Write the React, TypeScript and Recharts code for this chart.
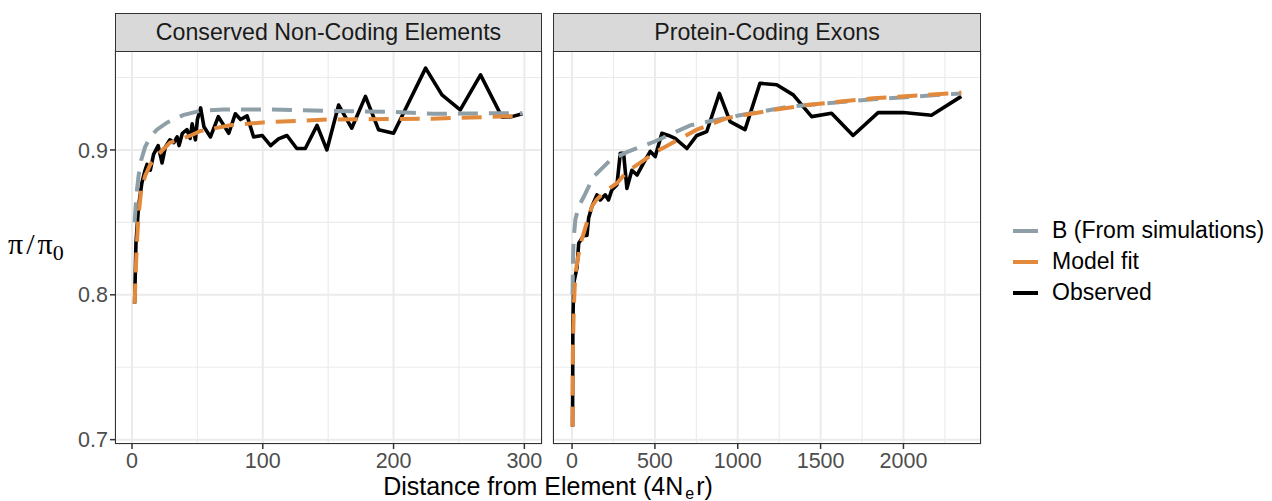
import { LineChart, Line, XAxis, YAxis, CartesianGrid } from 'recharts';

const FONT = '"Liberation Sans", Arial, Helvetica, sans-serif';
const GREY = '#8E9FA7';
const ORANGE = '#E3893B';

// Conserved non-coding elements
const cneObsX = [2, 3, 5, 7.5, 10, 11.5, 14, 16.5, 20, 23, 25.5, 29, 32, 34.5, 36, 38.5, 42, 44.5, 46, 48.5, 50, 52.5, 55, 60, 66, 74, 79, 83, 88, 93, 99.5, 106, 112, 118.5, 126, 132.5, 141.5, 149, 158, 168, 178.5, 188.5, 200, 224.5, 237, 251, 266.5, 283, 290.5, 298.5];
const cneObsY = [0.794, 0.835, 0.861, 0.877, 0.886, 0.89, 0.886, 0.897, 0.903, 0.891, 0.902, 0.907, 0.905, 0.909, 0.903, 0.9115, 0.914, 0.908, 0.918, 0.907, 0.921, 0.929, 0.916, 0.909, 0.923, 0.9115, 0.925, 0.921, 0.9235, 0.909, 0.91, 0.903, 0.9076, 0.91, 0.901, 0.901, 0.917, 0.9, 0.931, 0.915, 0.937, 0.914, 0.9115, 0.9565, 0.938, 0.9276, 0.9518, 0.9226, 0.923, 0.925];
const cneBX = [2, 3.5, 5, 7, 10, 14, 19, 27, 39, 52, 70, 100, 150, 200, 230, 298.5];
const cneBY = [0.85, 0.87, 0.882, 0.893, 0.902, 0.909, 0.914, 0.919, 0.924, 0.927, 0.928, 0.928, 0.927, 0.9262, 0.925, 0.9254];
const cneFitX = [2, 3, 4, 5, 7, 10, 14, 19, 29, 45, 52, 75, 100, 150, 230, 298.5];
const cneFitY = [0.794, 0.82, 0.84, 0.855, 0.872, 0.882, 0.89, 0.896, 0.905, 0.91, 0.913, 0.917, 0.919, 0.921, 0.9216, 0.9235];

// Protein-coding exons
const pceObsX = [3, 5, 10, 30, 40, 70, 90, 100, 120, 150, 170, 200, 220, 240, 271, 291, 311, 331, 361, 392, 432, 472, 502, 542, 582, 622, 693, 753, 813, 889, 954, 1044, 1134, 1235, 1335, 1446, 1566, 1696, 1847, 1998, 2169, 2349];
const pceObsY = [0.709, 0.781, 0.808, 0.819, 0.8355, 0.841, 0.841, 0.853, 0.861, 0.869, 0.8655, 0.869, 0.8655, 0.8724, 0.876, 0.8977, 0.8977, 0.8735, 0.886, 0.8827, 0.891, 0.899, 0.8954, 0.9115, 0.91, 0.908, 0.901, 0.91, 0.9127, 0.939, 0.9196, 0.914, 0.946, 0.945, 0.938, 0.923, 0.9253, 0.91, 0.9258, 0.9258, 0.924, 0.937];
const pceBX = [3, 6, 10, 20, 40, 70, 130, 231, 331, 502, 713, 1014, 1315, 1817, 2349];
const pceBY = [0.8, 0.825, 0.839, 0.852, 0.861, 0.8675, 0.8816, 0.893, 0.8985, 0.906, 0.917, 0.924, 0.93, 0.935, 0.939];
const pceFitX = [3, 5, 10, 20, 50, 90, 120, 150, 211, 271, 331, 512, 602, 753, 934, 1214, 1416, 1817, 2349];
const pceFitY = [0.709, 0.76, 0.79, 0.815, 0.835, 0.85, 0.861, 0.866, 0.8724, 0.877, 0.885, 0.899, 0.9046, 0.914, 0.922, 0.9276, 0.931, 0.9357, 0.9396];

const yTicks = [0.7, 0.8, 0.9];
const yMinor = [0.75, 0.85, 0.95];
const yDomain = [0.697, 0.969];

const cneTicks = [0, 100, 200, 300];
const cneMinor = [50, 150, 250];
const pceTicks = [0, 500, 1000, 1500, 2000];
const pceMinor = [250, 750, 1250, 1750, 2250];

const legendItems = [
  { label: 'B (From simulations)', color: GREY },
  { label: 'Model fit', color: ORANGE },
  { label: 'Observed', color: '#000000' },
];

const zip = (xs: number[], ys: number[]) => xs.map((x, i) => ({ x, y: ys[i] }));

interface PanelProps {
  title: string;
  left: number;
  width: number;
  margin: { top: number; right: number; bottom: number; left: number };
  showY: boolean;
  xDomain: number[];
  xTicks: number[];
  xMinor: number[];
  obs: { x: number; y: number }[];
  b: { x: number; y: number }[];
  fit: { x: number; y: number }[];
}

function Panel(p: PanelProps) {
  const plotLeft = p.left + p.margin.left + (p.showY ? 115 : 0);
  const plotRight = p.left + p.width - p.margin.right;
  const tickStyle = { fill: '#4D4D4D', fontSize: 21.5, fontFamily: FONT };
  return (
    <>
      <div style={{ position: 'absolute', left: p.left, top: 0 }}>
        <LineChart width={p.width} height={501} margin={p.margin}>
          <CartesianGrid
            stroke="#EBEBEB"
            strokeWidth={1.1}
            horizontalValues={yMinor}
            verticalValues={p.xMinor}
          />
          <CartesianGrid stroke="#EBEBEB" strokeWidth={2} />
          <XAxis
            type="number"
            dataKey="x"
            domain={p.xDomain}
            ticks={p.xTicks}
            allowDataOverflow
            axisLine={false}
            tickLine={{ stroke: '#333333', strokeWidth: 1.5 }}
            tickSize={5}
            tickMargin={4}
            height={57}
            tick={tickStyle}
          />
          <YAxis
            type="number"
            dataKey="y"
            domain={yDomain}
            ticks={yTicks}
            allowDataOverflow
            hide={!p.showY}
            width={115}
            axisLine={false}
            tickLine={{ stroke: '#333333', strokeWidth: 1.5 }}
            tickSize={5}
            tickMargin={2}
            tick={tickStyle}
          />
          <Line
            data={p.obs}
            dataKey="y"
            type="linear"
            stroke="#000000"
            strokeWidth={3.6}
            strokeLinejoin="round"
            dot={false}
            isAnimationActive={false}
          />
          <Line
            data={p.b}
            dataKey="y"
            type="linear"
            stroke={GREY}
            strokeWidth={4}
            strokeDasharray="20 11"
            dot={false}
            isAnimationActive={false}
          />
          <Line
            data={p.fit}
            dataKey="y"
            type="linear"
            stroke={ORANGE}
            strokeWidth={4}
            strokeDasharray="20 11"
            dot={false}
            isAnimationActive={false}
          />
        </LineChart>
      </div>
      <div
        style={{
          position: 'absolute',
          left: plotLeft,
          top: 50,
          width: plotRight - plotLeft,
          height: 394,
          border: '1.5px solid #333333',
          boxSizing: 'border-box',
          pointerEvents: 'none',
        }}
      />
      <div
        style={{
          position: 'absolute',
          left: plotLeft,
          top: 13,
          width: plotRight - plotLeft,
          height: 38.5,
          background: '#D9D9D9',
          border: '1.5px solid #333333',
          boxSizing: 'border-box',
          display: 'flex',
          alignItems: 'center',
          justifyContent: 'center',
          fontFamily: FONT,
          fontSize: 23.2,
          color: '#1A1A1A',
          whiteSpace: 'nowrap',
        }}
      >
        {p.title}
      </div>
    </>
  );
}

export default function App() {
  return (
    <div
      style={{
        position: 'absolute',
        left: 0,
        top: 0,
        width: 1272,
        height: 501,
        background: '#FFFFFF',
        overflow: 'hidden',
      }}
    >
      <Panel
        title="Conserved Non-Coding Elements"
        left={0}
        width={560}
        margin={{ top: 50, right: 18, bottom: 0, left: 0 }}
        showY
        xDomain={[-13, 313.5]}
        xTicks={cneTicks}
        xMinor={cneMinor}
        obs={zip(cneObsX, cneObsY)}
        b={zip(cneBX, cneBY)}
        fit={zip(cneFitX, cneFitY)}
      />
      <Panel
        title="Protein-Coding Exons"
        left={540}
        width={460}
        margin={{ top: 50, right: 19, bottom: 0, left: 13 }}
        showY={false}
        xDomain={[-115, 2468]}
        xTicks={pceTicks}
        xMinor={pceMinor}
        obs={zip(pceObsX, pceObsY)}
        b={zip(pceBX, pceBY)}
        fit={zip(pceFitX, pceFitY)}
      />
      <div
        style={{
          position: 'absolute',
          left: 8,
          top: 227,
          fontFamily: '"Liberation Serif", "DejaVu Serif", serif',
          fontSize: 30,
          color: '#000000',
          whiteSpace: 'nowrap',
        }}
      >
        π<span style={{ margin: '0 3px' }}>/</span>π
        <sub style={{ fontSize: 22, verticalAlign: -6 }}>0</sub>
      </div>
      <div
        style={{
          position: 'absolute',
          left: 115,
          width: 866,
          top: 474,
          textAlign: 'center',
          fontFamily: FONT,
          fontSize: 25,
          lineHeight: '25px',
          color: '#000000',
          whiteSpace: 'nowrap',
        }}
      >
        Distance from Element (4N
        <span style={{ fontSize: 16, position: 'relative', top: 4, margin: '0 2px' }}>e</span>
        r)
      </div>
      <div style={{ position: 'absolute', left: 1013, top: 215 }}>
        {legendItems.map((item) => (
          <div
            key={item.label}
            style={{ display: 'flex', alignItems: 'center', height: 31 }}
          >
            <div style={{ width: 25, height: 4, background: item.color }} />
            <span
              style={{
                marginLeft: 14,
                fontFamily: FONT,
                fontSize: 23,
                color: '#000000',
                whiteSpace: 'nowrap',
              }}
            >
              {item.label}
            </span>
          </div>
        ))}
      </div>
    </div>
  );
}
